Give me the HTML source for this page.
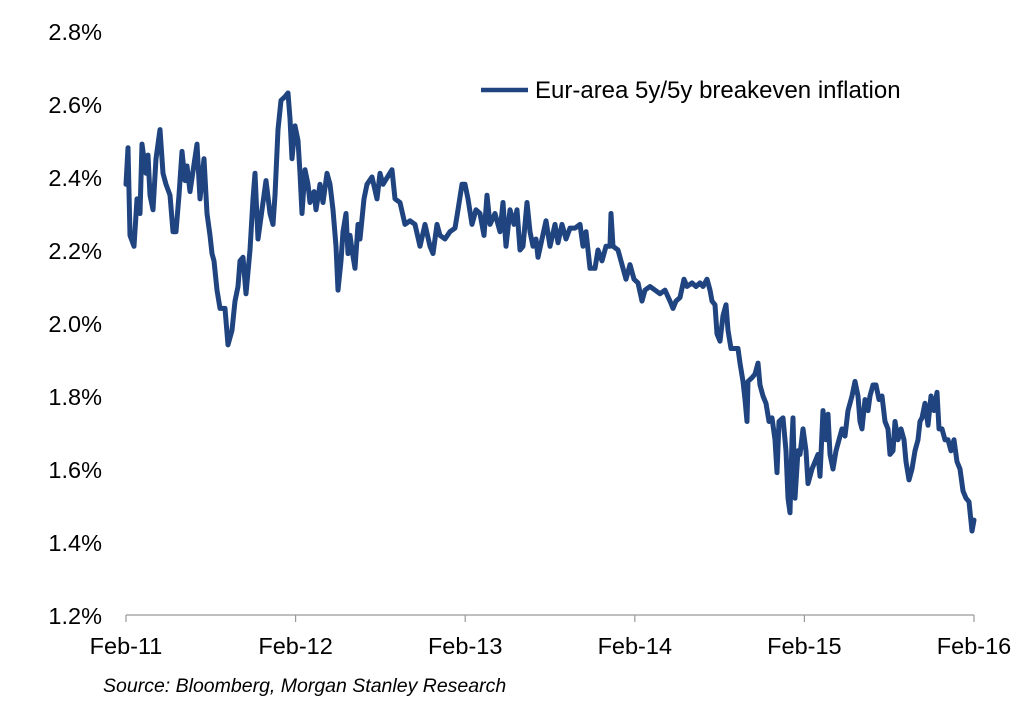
<!DOCTYPE html>
<html><head><meta charset="utf-8"><style>
html,body{margin:0;padding:0;background:#fff;}
svg{display:block;font-family:"Liberation Sans",Arial,sans-serif;}
</style></head><body>
<svg id="chart" width="1034" height="717">
  <g id="yticks"></g>
  <g id="xticks"></g>
  <g id="series"></g>
  <g>
    <line x1="481" y1="90" x2="528" y2="90" stroke="#1f4480" stroke-width="4.5"/>
    <text x="535" y="98" font-size="24" fill="#000">Eur-area 5y/5y breakeven inflation</text>
  </g>
  <text x="103" y="692" font-size="19.5" font-style="italic" fill="#000">Source: Bloomberg,  Morgan Stanley Research</text>
</svg>
<script>
const yTickLabels = ["1.2%","1.4%","1.6%","1.8%","2.0%","2.2%","2.4%","2.6%","2.8%"];
const yTickValues = [1.2,1.4,1.6,1.8,2.0,2.2,2.4,2.6,2.8];
const xTickLabels = ["Feb-11","Feb-12","Feb-13","Feb-14","Feb-15","Feb-16"];
const xTickObs = [0,169.6,339.2,508.8,678.4,848];
const obsDay = [0,2,4,8,11,14,16,20,22,24,27,30,34,37,40,44,47,50,53,56,59,61,64,71,74,78,81,84,86,88,91,94,99,102,106,109,112,114,117,120,124,127,129,132,136,140,144,147,149,152,155,159,162,164,166,169,172,174,176,179,182,184,188,190,194,197,201,204,207,210,212,215,217,220,222,224,226,229,232,234,238,241,246,251,254,257,266,269,274,279,284,289,294,299,304,307,311,314,319,324,329,332,336,339,342,346,350,354,358,361,364,369,374,377,380,384,388,391,394,397,401,404,407,410,412,416,420,424,429,432,436,440,444,449,454,457,460,464,469,472,476,480,484,485,487,492,496,500,504,508,512,516,519,524,529,534,539,544,547,550,554,558,561,566,570,574,577,581,584,586,589,591,594,597,600,602,605,608,612,614,617,619,621,622,626,629,632,634,637,640,643,646,649,651,653,657,660,662,664,666,667,669,672,674,677,680,682,686,689,692,694,697,700,702,704,707,710,713,716,719,722,724,726,729,732,734,736,739,742,744,747,750,753,756,759,762,764,767,769,772,775,778,780,783,786,789,792,794,796,799,802,805,808,811,813,816,819,822,825,828,831,834,837,840,843,846,848];
const breakeven = [2.38,2.48,2.24,2.21,2.34,2.30,2.49,2.41,2.46,2.35,2.31,2.45,2.53,2.41,2.38,2.35,2.25,2.25,2.35,2.47,2.39,2.43,2.36,2.49,2.34,2.45,2.30,2.24,2.19,2.17,2.09,2.04,2.04,1.94,1.98,2.06,2.10,2.17,2.18,2.08,2.20,2.34,2.41,2.23,2.31,2.39,2.30,2.27,2.35,2.53,2.61,2.62,2.63,2.56,2.45,2.54,2.50,2.41,2.30,2.42,2.38,2.33,2.36,2.31,2.38,2.33,2.41,2.38,2.31,2.21,2.09,2.17,2.25,2.30,2.19,2.24,2.20,2.15,2.27,2.23,2.34,2.38,2.40,2.34,2.41,2.38,2.42,2.34,2.33,2.27,2.28,2.27,2.21,2.27,2.21,2.19,2.27,2.24,2.23,2.25,2.26,2.31,2.38,2.38,2.34,2.27,2.31,2.30,2.24,2.35,2.27,2.30,2.25,2.33,2.21,2.31,2.27,2.31,2.20,2.21,2.33,2.25,2.21,2.23,2.18,2.23,2.28,2.21,2.27,2.22,2.27,2.23,2.26,2.26,2.27,2.21,2.25,2.15,2.15,2.20,2.17,2.21,2.21,2.30,2.21,2.20,2.16,2.12,2.16,2.12,2.11,2.06,2.09,2.10,2.09,2.08,2.09,2.06,2.04,2.06,2.07,2.12,2.10,2.11,2.10,2.11,2.10,2.12,2.09,2.06,2.05,1.97,1.95,2.02,2.05,1.98,1.93,1.93,1.93,1.89,1.84,1.79,1.73,1.84,1.85,1.86,1.89,1.83,1.80,1.78,1.73,1.74,1.68,1.59,1.73,1.74,1.65,1.52,1.48,1.68,1.74,1.52,1.65,1.64,1.71,1.65,1.56,1.60,1.62,1.64,1.58,1.76,1.68,1.75,1.64,1.60,1.65,1.68,1.71,1.69,1.76,1.78,1.80,1.84,1.80,1.73,1.71,1.79,1.76,1.80,1.83,1.83,1.79,1.80,1.73,1.71,1.64,1.65,1.73,1.68,1.71,1.68,1.62,1.57,1.60,1.65,1.68,1.73,1.74,1.78,1.72,1.80,1.76,1.81,1.71,1.71,1.68,1.68,1.65,1.68,1.62,1.60,1.54,1.52,1.51,1.43,1.46];

const NS = "http://www.w3.org/2000/svg";
const X0 = 126, X1 = 974, Y0 = 615, Y1 = 31;
const xScale = d => X0 + (d - 0) / 848 * (X1 - X0);
const yScale = v => Y0 - (v - 1.2) / (2.8 - 1.2) * (Y0 - Y1);

const yg = document.getElementById('yticks');
yTickValues.forEach((v, i) => {
  const t = document.createElementNS(NS, 'text');
  t.setAttribute('x', 102);
  t.setAttribute('y', yScale(v) + 9);
  t.setAttribute('text-anchor', 'end');
  t.setAttribute('font-size', '23.5');
  t.textContent = yTickLabels[i];
  
  
  yg.appendChild(t);
});

const xg = document.getElementById('xticks');
const axis = document.createElementNS(NS, 'line');
axis.setAttribute('x1', X0); axis.setAttribute('x2', X1);
axis.setAttribute('y1', Y0); axis.setAttribute('y2', Y0);
axis.setAttribute('stroke', '#999'); axis.setAttribute('stroke-width', '1.2');


xg.appendChild(axis);
xTickObs.forEach((d, i) => {
  const tk = document.createElementNS(NS, 'line');
  tk.setAttribute('x1', xScale(d)); tk.setAttribute('x2', xScale(d));
  tk.setAttribute('y1', Y0); tk.setAttribute('y2', Y0 + 7);
  tk.setAttribute('stroke', '#999'); tk.setAttribute('stroke-width', '1.2');
  
  
  xg.appendChild(tk);
  const t = document.createElementNS(NS, 'text');
  t.setAttribute('x', xScale(d));
  t.setAttribute('y', 654);
  t.setAttribute('text-anchor', 'middle');
  t.setAttribute('font-size', '23.5');
  t.textContent = xTickLabels[i];
  
  
  xg.appendChild(t);
});

const path = document.createElementNS(NS, 'path');
let dstr = '';
breakeven.forEach((v, i) => { dstr += (i ? 'L' : 'M') + xScale(obsDay[i]).toFixed(1) + ' ' + yScale(v).toFixed(1); });
path.setAttribute('d', dstr);
path.setAttribute('fill', 'none');
path.setAttribute('stroke', '#1f4480');
path.setAttribute('stroke-width', '5');
path.setAttribute('stroke-linejoin', 'round');
path.setAttribute('stroke-linecap', 'round');


document.getElementById('series').appendChild(path);
</script>
</body></html>
